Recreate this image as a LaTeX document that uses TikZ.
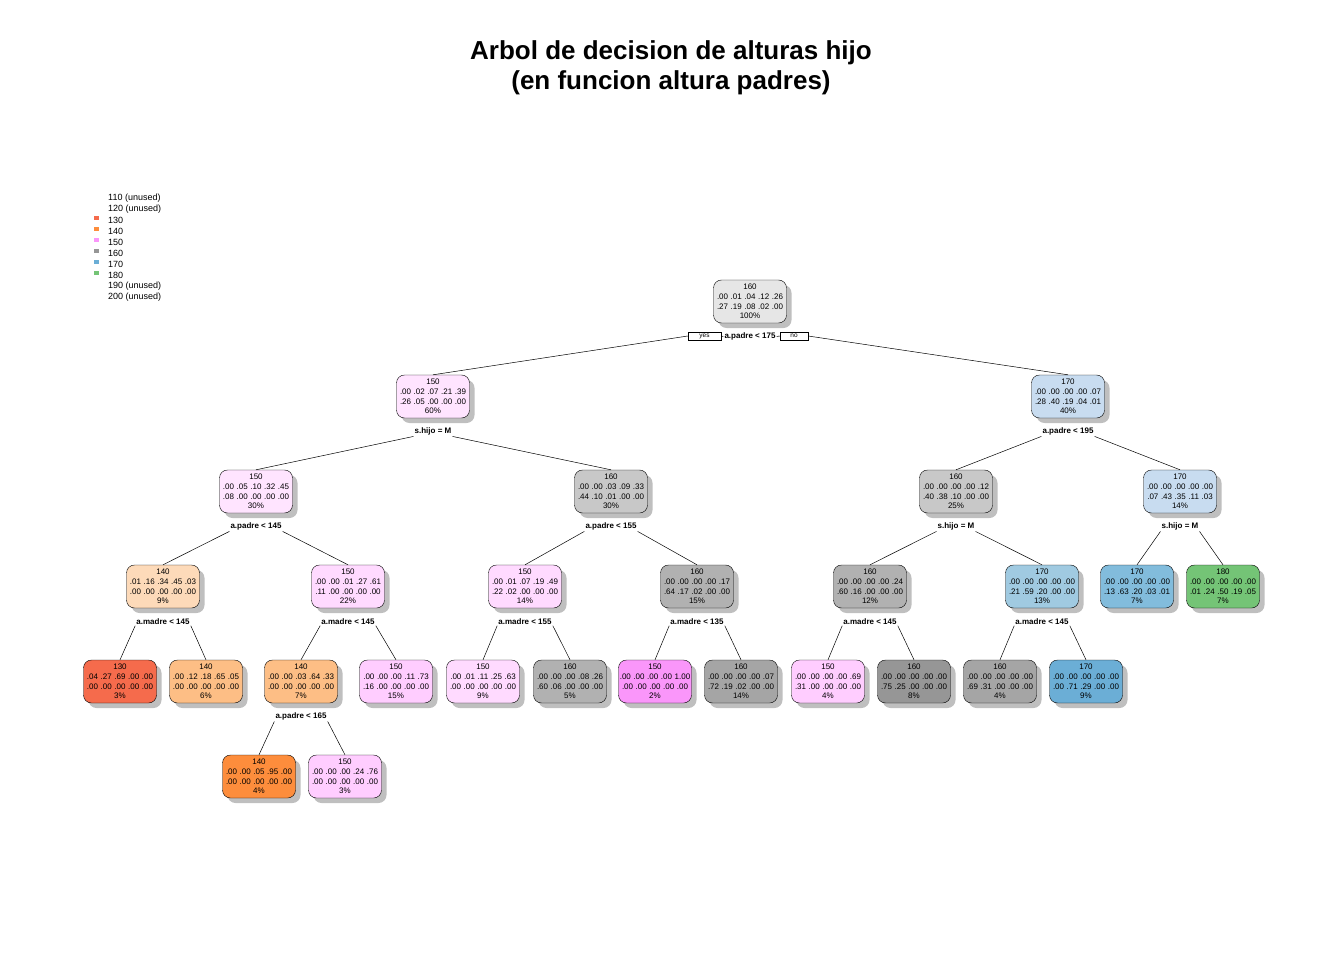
\documentclass[tikz,border=0pt]{standalone}
\usepackage{fontspec}
\setmainfont{Liberation Sans}
\usetikzlibrary{shadows}

\definecolor{gray1}{RGB}{230,230,230}
\definecolor{gray2}{RGB}{200,200,200}
\definecolor{gray3}{RGB}{177,177,177}
\definecolor{gray4}{RGB}{165,165,165}
\definecolor{gray5}{RGB}{150,150,150}
\definecolor{pink1}{RGB}{255,228,255}
\definecolor{pink2}{RGB}{255,218,255}
\definecolor{pink3}{RGB}{255,205,255}
\definecolor{pink4}{RGB}{250,150,250}
\definecolor{blue1}{RGB}{200,220,240}
\definecolor{blue2}{RGB}{160,202,225}
\definecolor{blue3}{RGB}{130,188,220}
\definecolor{blue4}{RGB}{107,174,214}
\definecolor{green1}{RGB}{116,196,118}
\definecolor{orange1}{RGB}{253,218,185}
\definecolor{orange2}{RGB}{253,190,133}
\definecolor{orange3}{RGB}{253,141,60}
\definecolor{red1}{RGB}{245,107,76}
\definecolor{key150}{RGB}{250,150,250}

\newcommand{\treefont}{\fontsize{8}{9.6}\selectfont\spaceskip 2.6pt\relax}

\begin{document}
\begin{tikzpicture}[x=1pt, y=-1pt,
  treenode/.style={draw, rounded corners=8pt, minimum width=73pt,
    minimum height=43pt, inner sep=1pt, align=center, font=\treefont,
    drop shadow={shadow xshift=5pt, shadow yshift=-5pt, fill=black!25, opacity=1}},
  splitlbl/.style={fill=white, inner sep=1pt, font=\fontsize{8}{9}\selectfont\bfseries},
  yesno/.style={draw, fill=white, inner sep=0pt, minimum height=8pt,
    font=\fontsize{6.5}{7}\selectfont},
  branch/.style={line width=0.5pt},
  legtext/.style={anchor=west, inner sep=0pt, font=\fontsize{9}{10}\selectfont},
  legkey/.style={inner sep=0pt, minimum width=5pt, minimum height=4pt}]

  \useasboundingbox (0,0) rectangle (1344,960);

  % Title
  \node [align=center, font=\fontsize{26}{30}\selectfont\bfseries] (title) at (671,68)
        {Arbol de decision de alturas hijo\\(en funcion altura padres)};

  % Legend
  \node [legtext] (lg110) at (108,198) {110 (unused)};
  \node [legtext] (lg120) at (108,209) {120 (unused)};
  \node [legtext] (lg130) at (108,220) {130};
  \node [legtext] (lg140) at (108,231) {140};
  \node [legtext] (lg150) at (108,242) {150};
  \node [legtext] (lg160) at (108,253) {160};
  \node [legtext] (lg170) at (108,264) {170};
  \node [legtext] (lg180) at (108,275) {180};
  \node [legtext] (lg190) at (108,286) {190 (unused)};
  \node [legtext] (lg200) at (108,297) {200 (unused)};
  \node [legkey, fill=red1] (k130) at (96,218) {};
  \node [legkey, fill=orange3] (k140) at (96,229) {};
  \node [legkey, fill=key150] (k150) at (96,240) {};
  \node [legkey, fill=gray5] (k160) at (96,251) {};
  \node [legkey, fill=blue4] (k170) at (96,262) {};
  \node [legkey, fill=green1] (k180) at (96,273) {};

  % Root
  \node [treenode, fill=gray1] (n1) at (750,301.5)
        {160\\.00 .01 .04 .12 .26\\.27 .19 .08 .02 .00\\100\%};
  \node [splitlbl] (s1) at (750,336.5) {a.padre < 175};
  \node [yesno, minimum width=33pt] (yes) at (704.5,336) {yes};
  \node [yesno, minimum width=28pt] (no) at (794,336) {no};

  % Level 1
  \node [treenode, fill=pink1] (n2) at (433,396.5)
        {150\\.00 .02 .07 .21 .39\\.26 .05 .00 .00 .00\\60\%};
  \node [treenode, fill=blue1] (n3) at (1068,396.5)
        {170\\.00 .00 .00 .00 .07\\.28 .40 .19 .04 .01\\40\%};
  \node [splitlbl] (s2) at (433,431.5) {s.hijo = M};
  \node [splitlbl] (s3) at (1068,431.5) {a.padre < 195};

  % Level 2
  \node [treenode, fill=pink1] (n4) at (256,491.5)
        {150\\.00 .05 .10 .32 .45\\.08 .00 .00 .00 .00\\30\%};
  \node [treenode, fill=gray2] (n5) at (611,491.5)
        {160\\.00 .00 .03 .09 .33\\.44 .10 .01 .00 .00\\30\%};
  \node [treenode, fill=gray2] (n6) at (956,491.5)
        {160\\.00 .00 .00 .00 .12\\.40 .38 .10 .00 .00\\25\%};
  \node [treenode, fill=blue1] (n7) at (1180,491.5)
        {170\\.00 .00 .00 .00 .00\\.07 .43 .35 .11 .03\\14\%};
  \node [splitlbl] (s4) at (256,526.5) {a.padre < 145};
  \node [splitlbl] (s5) at (611,526.5) {a.padre < 155};
  \node [splitlbl] (s6) at (956,526.5) {s.hijo = M};
  \node [splitlbl] (s7) at (1180,526.5) {s.hijo = M};

  % Level 3
  \node [treenode, fill=orange1] (n8) at (163,586.5)
        {140\\.01 .16 .34 .45 .03\\.00 .00 .00 .00 .00\\9\%};
  \node [treenode, fill=pink2] (n9) at (348,586.5)
        {150\\.00 .00 .01 .27 .61\\.11 .00 .00 .00 .00\\22\%};
  \node [treenode, fill=pink2] (n10) at (525,586.5)
        {150\\.00 .01 .07 .19 .49\\.22 .02 .00 .00 .00\\14\%};
  \node [treenode, fill=gray3] (n11) at (697,586.5)
        {160\\.00 .00 .00 .00 .17\\.64 .17 .02 .00 .00\\15\%};
  \node [treenode, fill=gray3] (n12) at (870,586.5)
        {160\\.00 .00 .00 .00 .24\\.60 .16 .00 .00 .00\\12\%};
  \node [treenode, fill=blue2] (n13) at (1042,586.5)
        {170\\.00 .00 .00 .00 .00\\.21 .59 .20 .00 .00\\13\%};
  \node [treenode, fill=blue3] (n14) at (1137,586.5)
        {170\\.00 .00 .00 .00 .00\\.13 .63 .20 .03 .01\\7\%};
  \node [treenode, fill=green1] (n15) at (1223,586.5)
        {180\\.00 .00 .00 .00 .00\\.01 .24 .50 .19 .05\\7\%};
  \node [splitlbl] (s8) at (163,621.5) {a.madre < 145};
  \node [splitlbl] (s9) at (348,621.5) {a.madre < 145};
  \node [splitlbl] (s10) at (525,621.5) {a.madre < 155};
  \node [splitlbl] (s11) at (697,621.5) {a.madre < 135};
  \node [splitlbl] (s12) at (870,621.5) {a.madre < 145};
  \node [splitlbl] (s13) at (1042,621.5) {a.madre < 145};

  % Level 4
  \node [treenode, fill=red1] (n16) at (120,681.5)
        {130\\.04 .27 .69 .00 .00\\.00 .00 .00 .00 .00\\3\%};
  \node [treenode, fill=orange2] (n17) at (206,681.5)
        {140\\.00 .12 .18 .65 .05\\.00 .00 .00 .00 .00\\6\%};
  \node [treenode, fill=orange2] (n18) at (301,681.5)
        {140\\.00 .00 .03 .64 .33\\.00 .00 .00 .00 .00\\7\%};
  \node [treenode, fill=pink3] (n19) at (396,681.5)
        {150\\.00 .00 .00 .11 .73\\.16 .00 .00 .00 .00\\15\%};
  \node [treenode, fill=pink2] (n20) at (483,681.5)
        {150\\.00 .01 .11 .25 .63\\.00 .00 .00 .00 .00\\9\%};
  \node [treenode, fill=gray3] (n21) at (570,681.5)
        {160\\.00 .00 .00 .08 .26\\.60 .06 .00 .00 .00\\5\%};
  \node [treenode, fill=pink4] (n22) at (655,681.5)
        {150\\.00 .00 .00 .00 1.00\\.00 .00 .00 .00 .00\\2\%};
  \node [treenode, fill=gray4] (n23) at (741,681.5)
        {160\\.00 .00 .00 .00 .07\\.72 .19 .02 .00 .00\\14\%};
  \node [treenode, fill=pink3] (n24) at (828,681.5)
        {150\\.00 .00 .00 .00 .69\\.31 .00 .00 .00 .00\\4\%};
  \node [treenode, fill=gray5] (n25) at (914,681.5)
        {160\\.00 .00 .00 .00 .00\\.75 .25 .00 .00 .00\\8\%};
  \node [treenode, fill=gray4] (n26) at (1000,681.5)
        {160\\.00 .00 .00 .00 .00\\.69 .31 .00 .00 .00\\4\%};
  \node [treenode, fill=blue4] (n27) at (1086,681.5)
        {170\\.00 .00 .00 .00 .00\\.00 .71 .29 .00 .00\\9\%};
  \node [splitlbl] (s18) at (301,716.5) {a.padre < 165};

  % Level 5
  \node [treenode, fill=orange3] (n36) at (259,776.5)
        {140\\.00 .00 .05 .95 .00\\.00 .00 .00 .00 .00\\4\%};
  \node [treenode, fill=pink3] (n37) at (345,776.5)
        {150\\.00 .00 .00 .24 .76\\.00 .00 .00 .00 .00\\3\%};

  % Branches
  \draw [branch] (yes.east) -- (s1.west);
  \draw [branch] (s1.east) -- (no.west);
  \draw [branch] (yes.west) -- (n2.north);
  \draw [branch] (no.east) -- (n3.north);
  \draw [branch] (s2.south west) -- (n4.north);
  \draw [branch] (s2.south east) -- (n5.north);
  \draw [branch] (s3.south west) -- (n6.north);
  \draw [branch] (s3.south east) -- (n7.north);
  \draw [branch] (s4.south west) -- (n8.north);
  \draw [branch] (s4.south east) -- (n9.north);
  \draw [branch] (s5.south west) -- (n10.north);
  \draw [branch] (s5.south east) -- (n11.north);
  \draw [branch] (s6.south west) -- (n12.north);
  \draw [branch] (s6.south east) -- (n13.north);
  \draw [branch] (s7.south west) -- (n14.north);
  \draw [branch] (s7.south east) -- (n15.north);
  \draw [branch] (s8.south west) -- (n16.north);
  \draw [branch] (s8.south east) -- (n17.north);
  \draw [branch] (s9.south west) -- (n18.north);
  \draw [branch] (s9.south east) -- (n19.north);
  \draw [branch] (s10.south west) -- (n20.north);
  \draw [branch] (s10.south east) -- (n21.north);
  \draw [branch] (s11.south west) -- (n22.north);
  \draw [branch] (s11.south east) -- (n23.north);
  \draw [branch] (s12.south west) -- (n24.north);
  \draw [branch] (s12.south east) -- (n25.north);
  \draw [branch] (s13.south west) -- (n26.north);
  \draw [branch] (s13.south east) -- (n27.north);
  \draw [branch] (s18.south west) -- (n36.north);
  \draw [branch] (s18.south east) -- (n37.north);
\end{tikzpicture}
\end{document}
